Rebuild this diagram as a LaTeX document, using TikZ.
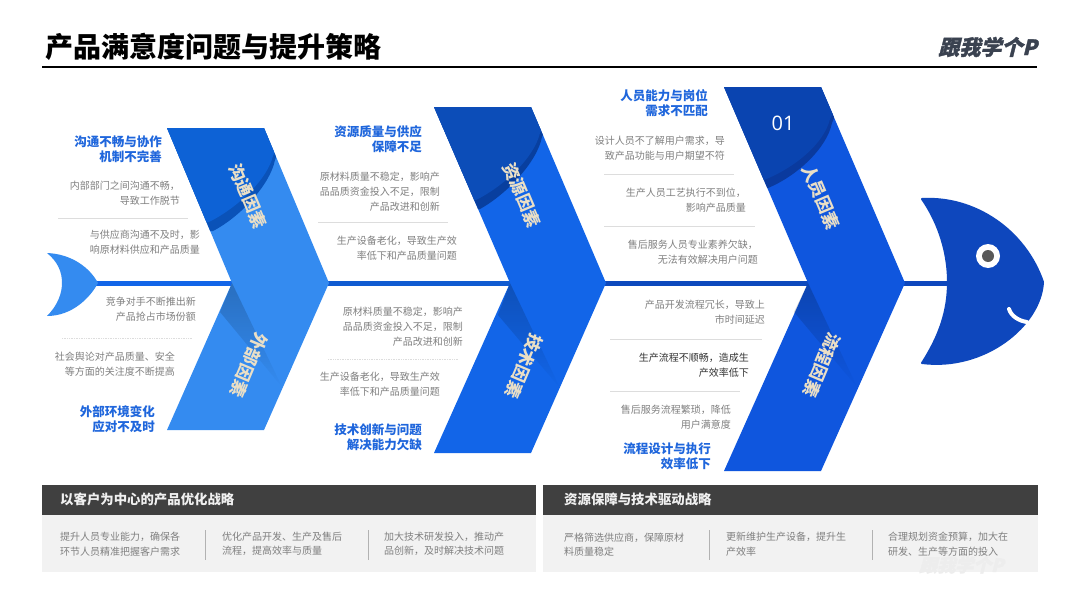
\documentclass[tikz,border=0pt]{standalone}
\usepackage{fontspec}
\usetikzlibrary{fadings}
\setmainfont{Noto Sans CJK SC}
\newfontfamily\logofont[FakeSlant=.25,FakeBold=1.5]{Noto Sans CJK SC}
\newfontfamily\numfont{Open Sans}
\definecolor{headblue}{HTML}{1F66DC}
\definecolor{bodygrey}{HTML}{7F7F7F}
\definecolor{rulegrey}{HTML}{DDDDDD}
\definecolor{labelbeige}{HTML}{EADFC6}
\definecolor{logoink}{HTML}{3A4250}
\definecolor{cAlow}{HTML}{348BF0}
\definecolor{cAup}{HTML}{0D62D6}
\definecolor{cArim}{HTML}{0A52B8}
\definecolor{cBlow}{HTML}{1265E8}
\definecolor{cBup}{HTML}{0C4DB8}
\definecolor{cBrim}{HTML}{083F9F}
\definecolor{cClow}{HTML}{0F56DE}
\definecolor{cCup}{HTML}{0A44B0}
\definecolor{cCrim}{HTML}{0A3A9E}
\definecolor{fishhead}{HTML}{0E47BD}
\definecolor{panelhead}{HTML}{404040}
\definecolor{panelbody}{HTML}{F2F2F2}
\tikzset{
  x=1pt,y=-1pt,
  bodytxt/.style={anchor=east,align=right,inner sep=0pt,text=bodygrey,font=\fontsize{10}{15}\selectfont},
  headtxt/.style={anchor=east,align=right,inner sep=0pt,text=headblue,font=\fontsize{12.5}{15}\selectfont\bfseries},
  armlabel/.style={inner sep=0pt,text=labelbeige,font=\fontsize{17}{17}\selectfont\bfseries},
  paneltitle/.style={anchor=west,inner sep=0pt,text=white!94!black,font=\fontsize{13.4}{16}\selectfont\bfseries},
  paneltxt/.style={anchor=west,align=left,inner sep=0pt,text=bodygrey,font=\fontsize{10}{14.5}\selectfont},
  divline/.style={draw=rulegrey,line width=.7pt},
  divdots/.style={draw=rulegrey,line width=.7pt,densely dotted},
  panelsep/.style={draw=black!30,line width=.7pt},
  shadetri/.style={fill=black,fill opacity=.2,path fading=south},
}
\begin{document}
\begin{tikzpicture}
\useasboundingbox[fill=white] (0,0) rectangle (1080,608);

% title
\node[anchor=west,inner sep=0pt,font=\fontsize{28}{32}\selectfont\bfseries,text=black] (title) at (45,47) {产品满意度问题与提升策略};
\draw[line width=1.5pt] (42,67) -- (1037,67);
\node[anchor=east,inner sep=0pt,font=\logofont\fontsize{21}{24}\selectfont\bfseries,text=logoink] (logo) at (1037,47) {跟我学个P};

% spine
\fill[fill=cBlow] (90,281) rectangle (235,286);
\fill[fill=cBlow!90!black] (325,281) rectangle (512,286);
\fill[fill=cClow!85!black] (602,281) rectangle (810,286);
\fill[fill=fishhead] (900,281) rectangle (950,286);

% tail
\fill[cAlow] (47,253) .. controls (72,254) and (90,268) .. (98,283)
  .. controls (90,298) and (72,316) .. (47,316)
  .. controls (58,305) and (62,293) .. (62,283)
  .. controls (62,272) and (58,262) .. cycle;

% chevron 1
\fill[cAlow] (167,128) -- (264,128) -- (329,283) -- (264,430) -- (167,430) -- (232,283) -- cycle;
\begin{scope}
  \clip (167,128) -- (264,128) -- (329,283) -- (232,283) -- cycle;
  \fill[cArim] (160,120) -- (290,120) -- (275,160) .. controls (270,185) and (240,217) .. (213,231) -- (190,231) -- cycle;
  \fill[cAup] (160,120) -- (290,120) -- (273,156) .. controls (267,180) and (237,208) .. (209,222) -- (190,222) -- cycle;
\end{scope}
\fill[shadetri] (232,283) -- (282,387) -- (220,312) -- cycle;

% chevron 2
\fill[cBlow] (434,107) -- (531,107) -- (606,283) -- (531,453) -- (434,453) -- (510,283) -- cycle;
\begin{scope}
  \clip (434,107) -- (531,107) -- (606,283) -- (510,283) -- cycle;
  \fill[cBrim] (425,100) -- (560,100) -- (542,137) .. controls (537,162) and (507,194) .. (480,209) -- (455,209) -- cycle;
  \fill[cBup] (425,100) -- (560,100) -- (540,133) .. controls (534,158) and (504,186) .. (476,200) -- (455,200) -- cycle;
\end{scope}
\fill[shadetri] (510,283) -- (560,388) -- (498,315) -- cycle;

% chevron 3
\fill[cClow] (724,87) -- (821,87) -- (905,283) -- (821,471) -- (724,471) -- (808,283) -- cycle;
\begin{scope}
  \clip (724,87) -- (821,87) -- (905,283) -- (808,283) -- cycle;
  \fill[cCrim] (715,80) -- (850,80) -- (832,123) .. controls (827,148) and (797,176) .. (768,188) -- (745,188) -- cycle;
  \fill[cCup] (715,80) -- (850,80) -- (830,119) .. controls (824,144) and (794,168) .. (764,180) -- (745,180) -- cycle;
\end{scope}
\fill[shadetri] (808,283) -- (857,387) -- (794,312) -- cycle;
\node[inner sep=0pt,text=white,font=\numfont\fontsize{20}{22}\selectfont] (num) at (783,123) {01};

% arm labels
\node[armlabel,rotate=-67] (la) at (248,196) {沟通因素};
\node[armlabel,rotate=-113] (lb) at (249,365) {外部因素};
\node[armlabel,rotate=-67] (lc) at (522,195) {资源因素};
\node[armlabel,rotate=-113] (ld) at (524,366) {技术因素};
\node[armlabel,rotate=-67] (le) at (821,197) {人员因素};
\node[armlabel,rotate=-113] (lf) at (822,365) {流程因素};

% head
\draw[fill=fishhead,draw=fishhead,line width=2pt,line join=round]
  (922,199) .. controls (975,196) and (1025,230) .. (1043,282)
  .. controls (1041,325) and (985,371) .. (922,363)
  .. controls (940,335) and (948,310) .. (948,282)
  .. controls (948,255) and (940,225) .. cycle;
\fill[white] (988,256) circle[radius=12];
\fill[black!65] (988,256) circle[radius=6];
\draw[white,line width=4pt,line cap=round] (1009,309) .. controls (1011,316) and (1019,321) .. (1027,322);

% chevron 1 texts
\node[headtxt] (t01) at (162,149.5) {沟通不畅与协作\\机制不完善};
\node[bodytxt] (t02) at (180,193.5) {内部部门之间沟通不畅，\\导致工作脱节};
\draw[divline] (58,218.5) -- (188,218.5);
\node[bodytxt] (t03) at (200,242.5) {与供应商沟通不及时，影\\响原材料供应和产品质量};
\node[bodytxt] (t04) at (196,309.5) {竞争对手不断推出新\\产品抢占市场份额};
\draw[divdots] (62,338) -- (192,338);
\node[bodytxt] (t05) at (175,364) {社会舆论对产品质量、安全\\等方面的关注度不断提高};
\node[headtxt] (t06) at (155,419) {外部环境变化\\应对不及时};

% chevron 2 texts
\node[headtxt] (t07) at (422,139.5) {资源质量与供应\\保障不足};
\node[bodytxt] (t08) at (440,191.5) {原材料质量不稳定，影响产\\品品质资金投入不足，限制\\产品改进和创新};
\draw[divline] (318,222) -- (448,222);
\node[bodytxt] (t09) at (457,248.5) {生产设备老化，导致生产效\\率低下和产品质量问题};
\node[bodytxt] (t10) at (463,327) {原材料质量不稳定，影响产\\品品质资金投入不足，限制\\产品改进和创新};
\draw[divdots] (328,359) -- (458,359);
\node[bodytxt] (t11) at (440,384.5) {生产设备老化，导致生产效\\率低下和产品质量问题};
\node[headtxt] (t12) at (422,437.5) {技术创新与问题\\解决能力欠缺};

% chevron 3 texts
\node[headtxt] (t13) at (708,103.5) {人员能力与岗位\\需求不匹配};
\node[bodytxt] (t14) at (725,148) {设计人员不了解用户需求，导\\致产品功能与用户期望不符};
\draw[divline] (604,174) -- (734,174);
\node[bodytxt] (t15) at (746,200) {生产人员工艺执行不到位，\\影响产品质量};
\draw[divline] (604,226) -- (755,226);
\node[bodytxt] (t16) at (758,252) {售后服务人员专业素养欠缺，\\无法有效解决用户问题};
\node[bodytxt] (t17) at (765,312.5) {产品开发流程冗长，导致上\\市时间延迟};
\draw[divline] (610,339) -- (762,339);
\node[bodytxt,text=black!80] (t18) at (749,365) {生产流程不顺畅，造成生\\产效率低下};
\draw[divline] (610,391) -- (740,391);
\node[bodytxt] (t19) at (731,417) {售后服务流程繁琐，降低\\用户满意度};
\node[headtxt] (t20) at (711,456) {流程设计与执行\\效率低下};

% bottom panels
\fill[panelbody] (42,515) rectangle (536,572);
\fill[panelhead] (42,485) rectangle (536,515);
\fill[panelbody] (543,515) rectangle (1038,572);
\fill[panelhead] (543,485) rectangle (1038,515);
\node[paneltitle] (p1) at (60,499.5) {以客户为中心的产品优化战略};
\node[paneltitle] (p2) at (564,499.5) {资源保障与技术驱动战略};
\node[anchor=west,inner sep=0pt,text=black!7,font=\logofont\fontsize{18}{20}\selectfont\bfseries] (wm) at (919,565) {跟我学个P};
\node[paneltxt] (q1) at (60,544) {提升人员专业能力，确保各\\环节人员精准把握客户需求};
\node[paneltxt] (q2) at (222,544) {优化产品开发、生产及售后\\流程，提高效率与质量};
\node[paneltxt] (q3) at (384,544) {加大技术研发投入，推动产\\品创新，及时解决技术问题};
\node[paneltxt] (q4) at (564,544.5) {严格筛选供应商，保障原材\\料质量稳定};
\node[paneltxt] (q5) at (726,544) {更新维护生产设备，提升生\\产效率};
\node[paneltxt] (q6) at (888,544) {合理规划资金预算，加大在\\研发、生产等方面的投入};
\draw[panelsep] (205,530) -- (205,560);
\draw[panelsep] (368,530) -- (368,560);
\draw[panelsep] (709,530) -- (709,560);
\draw[panelsep] (872,530) -- (872,560);
\end{tikzpicture}
\end{document}
